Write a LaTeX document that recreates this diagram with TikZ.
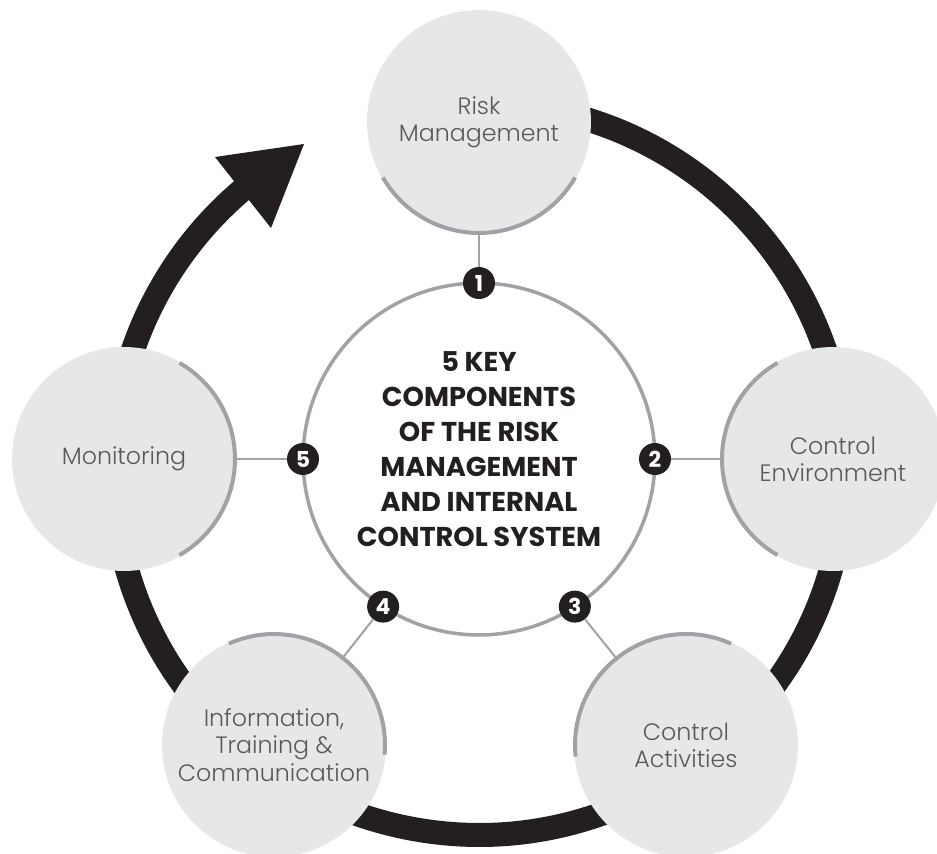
\documentclass[tikz,border=0pt]{standalone}
\usepackage{fontspec}
\setmainfont{Poppins}
\newfontfamily\thinfont{Poppins Light}
\usetikzlibrary{arrows.meta}
\definecolor{RiskInk}{HTML}{231F20}
\definecolor{RiskMuted}{HTML}{58595B}
\definecolor{RiskRim}{HTML}{A0A2A5}
\definecolor{RiskPale}{HTML}{E6E7E8}

\begin{document}
\begin{tikzpicture}[x=0.02cm,y=0.02cm,
  part/.style={circle,fill=RiskPale,minimum size=4.48cm,inner sep=0pt,align=center,text=RiskMuted,font=\thinfont\fontsize{13.5}{15.5}\selectfont},
  badge/.style={circle,fill=RiskInk,minimum size=0.64cm,inner sep=0pt,text=white,font=\fontsize{12.5}{12.5}\selectfont\bfseries},
  rim/.style={draw=RiskRim,line width=0.08cm},
  link/.style={draw=RiskRim,line width=0.04cm}]
\useasboundingbox (-479,-394) rectangle (458,459);
% the cycle arrow runs behind all the circles
\draw[RiskInk,line width=0.48cm] (0,-10) ++(80:7.32cm) arc[start angle=80,end angle=-231,radius=7.32cm];
\fill[RiskInk] (-175,315) -- (-264,302) -- (-208,231) -- cycle;
% five components
\node[part] (risk) at (0,337) {Risk\\Management};
\node[part] (env) at (354,0) {Control\\Environment};
\node[part] (act) at (207,-286) {Control\\Activities};
\node[part] (info) at (-205,-286) {Information,\\Training \&\\Communication};
\node[part] (mon) at (-355,0) {Monitoring};
\draw[rim] (risk) ++(-150:2.22cm) arc[start angle=-150,end angle=-30,radius=2.22cm];
\draw[rim] (env) ++(120:2.22cm) arc[start angle=120,end angle=240,radius=2.22cm];
\draw[rim] (act) ++(66:2.22cm) arc[start angle=66,end angle=186,radius=2.22cm];
\draw[rim] (info) ++(-5:2.22cm) arc[start angle=-5,end angle=114,radius=2.22cm];
\draw[rim] (mon) ++(-60:2.22cm) arc[start angle=-60,end angle=60,radius=2.22cm];
% hub
\node[circle,draw=RiskRim,line width=0.07cm,fill=white,minimum size=7.04cm,inner sep=0pt] (hub) at (0,0) {};
\node[align=center,text=RiskInk,font=\fontsize{15.5}{19.9}\selectfont\bfseries] (title) at (0,10) {5 KEY\\COMPONENTS\\OF THE RISK\\MANAGEMENT\\AND INTERNAL\\CONTROL SYSTEM};
% numbered badges on the hub
\node[badge] (n1) at (90:176) {1};
\node[badge] (n2) at (0:176) {2};
\node[badge] (n3) at (-57:176) {3};
\node[badge] (n4) at (-123:176) {4};
\node[badge] (n5) at (180:176) {5};
\draw[link] (n1) -- (risk);
\draw[link] (n2) -- (env);
\draw[link] (n3) -- (act);
\draw[link] (n4) -- (info);
\draw[link] (n5) -- (mon);
\end{tikzpicture}
\end{document}
